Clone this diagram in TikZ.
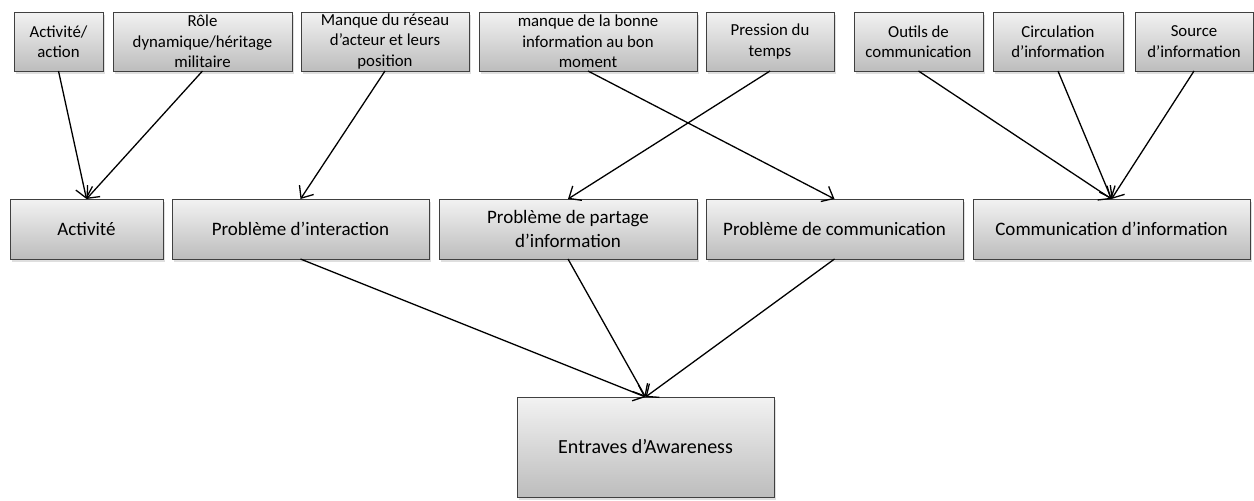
\documentclass[tikz,border=0pt]{standalone}
\usepackage{fontspec}
\setmainfont{Carlito}
\usetikzlibrary{positioning,shadows,arrows.meta}

\begin{document}
\begin{tikzpicture}[x=1pt,y=1pt,->,>={Straight Barb[length=10pt,width=17pt]},
                    line width=1.3pt,
                    box/.style={draw=black!75,line width=0.9pt,top color=black!5,
                                bottom color=black!26,anchor=west,
                                drop shadow={opacity=0.25,shadow xshift=1.5pt,shadow yshift=-2.5pt},
                                align=center,inner sep=0pt,outer sep=0pt},
                    topbox/.style={box,minimum height=59pt,font=\fontsize{16.8}{20.5}\selectfont},
                    midbox/.style={box,minimum height=60pt,font=\fontsize{19}{23.5}\selectfont}]

  \useasboundingbox (0,0) rectangle (1254,-501);

  % causes
  \node[topbox,minimum width=89pt]  (A1) at (14,-41.5)     {Activité/\\action};
  \node[topbox,minimum width=179pt] (A2) [right=10pt of A1] {Rôle\\dynamique/héritage\\militaire};
  \node[topbox,minimum width=168pt] (A3) [right=9pt of A2]  {Manque du réseau\\d’acteur et leurs\\position};
  \node[topbox,minimum width=218pt] (A4) [right=10pt of A3] {manque de la bonne\\information au bon\\moment};
  \node[topbox,minimum width=128pt] (A5) [right=9pt of A4]  {Pression du\\temps};
  \node[topbox,minimum width=129pt] (A6) [right=20pt of A5] {Outils de\\communication};
  \node[topbox,minimum width=130pt] (A7) [right=10pt of A6] {Circulation\\d’information};
  \node[topbox,minimum width=118pt] (A8) [right=12pt of A7] {Source\\d’information};

  % problems
  \node[midbox,minimum width=153pt] (B1) at (10,-229)      {Activité};
  \node[midbox,minimum width=257pt] (B2) [right=9pt of B1]  {Problème d’interaction};
  \node[midbox,minimum width=258pt] (B3) [right=10pt of B2] {Problème de partage\\d’information};
  \node[midbox,minimum width=257pt] (B4) [right=9pt of B3]  {Problème de communication};
  \node[midbox,minimum width=277pt] (B5) [right=10pt of B4] {Communication d’information};

  \node[box,minimum width=257pt,minimum height=100pt,font=\fontsize{20}{24}\selectfont]
        (E) at (517,-447) {Entraves d’Awareness};

  \path (A1.south) edge (B1.north)
        (A2.south) edge (B1.north)
        (A3.south) edge (B2.north)
        (A4.south) edge (B4.north)
        (A5.south) edge (B3.north)
        (A6.south) edge (B5.north)
        (A7.south) edge (B5.north)
        (A8.south) edge (B5.north)
        (B2.south) edge (E.north)
        (B3.south) edge (E.north)
        (B4.south) edge (E.north);
\end{tikzpicture}
\end{document}
